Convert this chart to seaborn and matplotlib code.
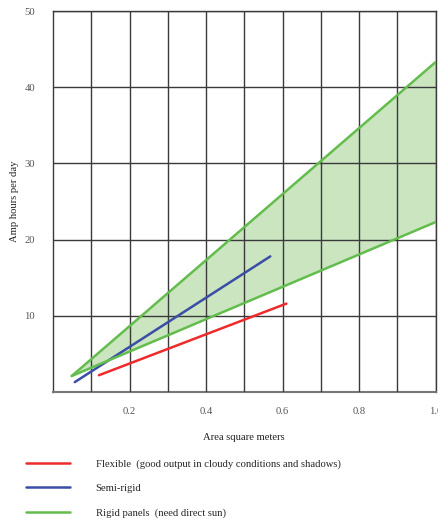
import numpy as np
import pandas as pd
import matplotlib
matplotlib.use('Agg')
import matplotlib.pyplot as plt
import seaborn as sns

# values
flex_x = [0.12, 0.61]
flex_y = [2.2, 11.6]
semi_x = [0.057, 0.568]
semi_y = [1.3, 17.8]
rigid_x = [0.049, 1.0]
rigid_low = [2.1, 22.3]
rigid_high = [2.1, 43.3]

labels = ['Flexible  (good output in cloudy conditions and shadows)',
          'Semi-rigid',
          'Rigid panels  (need direct sun)']
x_ticks = [0.2, 0.4, 0.6, 0.8, 1.0]
x_ticklabels = ['0.2', '0.4', '0.6', '0.8', '1.0']
y_ticks = [10, 20, 30, 40, 50]

red = '#ee2a2a'
blue = '#3a4ea6'
green = '#62bd4c'
fill_green = '#c9e4bd'

sns.set_theme(style='white')
plt.rcParams['font.family'] = ['Liberation Serif', 'DejaVu Serif']

fig = plt.figure(figsize=(4.38, 5.19), dpi=100)
ax = fig.add_axes([0.121, 0.2447, 0.8735, 0.734])

ax.fill_between(rigid_x, rigid_low, rigid_high, color=fill_green, alpha=0.95, lw=0, zorder=1)

flex = pd.DataFrame({'x': flex_x, 'y': flex_y})
semi = pd.DataFrame({'x': semi_x, 'y': semi_y})
sns.lineplot(data=flex, x='x', y='y', ax=ax, color=red, lw=1.8, zorder=3)
sns.lineplot(data=semi, x='x', y='y', ax=ax, color=blue, lw=1.8, zorder=3)
sns.lineplot(x=rigid_x, y=rigid_high, ax=ax, color=green, lw=1.8, zorder=3)
sns.lineplot(x=rigid_x, y=rigid_low, ax=ax, color=green, lw=1.8, zorder=3)

ax.set_xlim(0, 1.0)
ax.set_ylim(0, 50)
ax.grid(True, color='#3a3a3a', lw=1.0, zorder=2)
ax.set_axisbelow(False)
ax.set_xticks(x_ticks)
ax.set_xticklabels(x_ticklabels)
ax.set_xticks(np.arange(0.1, 1.0, 0.2), minor=True)
ax.grid(True, which='minor', axis='x', color='#3a3a3a', lw=1.0)
ax.set_yticks(y_ticks)
ax.tick_params(axis='both', which='both', length=0, labelsize=7.7, colors='#555555')
ax.tick_params(axis='x', pad=11)
ax.tick_params(axis='y', pad=13)
for s in ax.spines.values():
    s.set_color('#3a3a3a')
    s.set_linewidth(1.0)
ax.spines['bottom'].set_color('#777777')
ax.spines['bottom'].set_linewidth(1.5)

ax.set_xlabel('Area square meters', fontsize=7.7, color='#222222', labelpad=12)
ax.set_ylabel('Amp hours per day', fontsize=7.7, color='#222222', labelpad=4)

handles = [plt.Line2D([], [], color=c, lw=1.8) for c in [red, blue, green]]
fig.legend(handles, labels, loc='upper left', bbox_to_anchor=(0.05, 0.124),
           frameon=False, fontsize=7.7, handlelength=4.1, handletextpad=2.4,
           labelspacing=1.4, borderaxespad=0)

fig.savefig('out.png', dpi=100)
